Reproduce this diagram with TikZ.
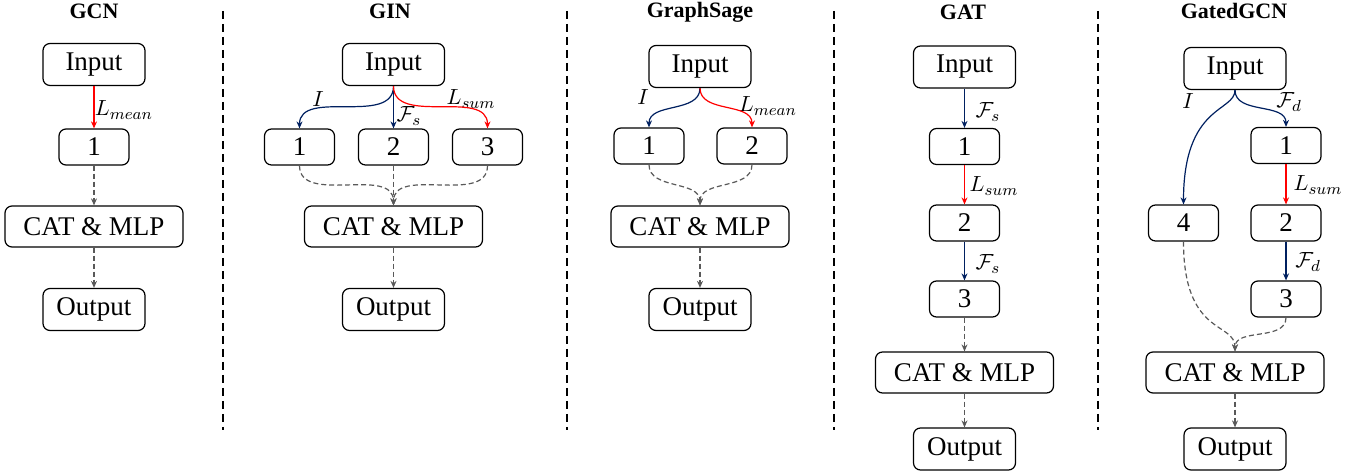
\documentclass[tikz,border=0pt]{standalone}
\usepackage{fontspec}
\setmainfont{Liberation Serif}
\newfontfamily\tnr{Liberation Serif}
\usepackage{tikz}
\usetikzlibrary{arrows.meta}
\usepackage{amssymb}
\usepackage{amsmath}
\definecolor{fblue}{RGB}{0,32,96}
\definecolor{dgray}{RGB}{89,89,89}

\begin{document}
\begin{tikzpicture}[x=0.5pt,y=-0.5pt,
    box/.style={draw,rounded corners=3.5pt,line width=0.6pt,inner sep=0pt,font=\tnr\fontsize{13.5}{15}\selectfont},
    inbox/.style={box,minimum width=51pt,minimum height=21pt},
    numbox/.style={box,minimum width=35pt,minimum height=18pt},
    catbox/.style={box,minimum width=89pt,minimum height=20.5pt},
    title/.style={font=\tnr\fontsize{11}{13}\selectfont\bfseries},
    lab/.style={font=\fontsize{11}{13}\selectfont,inner sep=0pt},
    tip/.style={-{Stealth[length=3.5pt,width=3pt]}},
    redarr/.style={tip,red,line width=0.6pt},
    bluearr/.style={tip,fblue,line width=0.6pt},
    dasharr/.style={tip,dgray,dash pattern=on 2.5pt off 1.5pt,line width=0.6pt},
    sepline/.style={dash pattern=on 4pt off 2.5pt,line width=1pt}]

        \useasboundingbox (0,0) rectangle (1355,474);

        % 分隔线
        \foreach \x in {223,567,834,1098}
            \draw[sepline] (\x,11) -- (\x,430);

        % GCN
        \node[title] (gcnT) at (94,11) {GCN};
        \node[inbox] (gcnIn) at (94,64.5) {Input};
        \node[numbox] (gcn1) at (94,147) {1};
        \node[catbox] (gcnCat) at (94,226.5) {CAT \& MLP};
        \node[inbox] (gcnOut) at (94,309.5) {Output};
        \node[lab] (gcnL) at (124,110) {$L_{mean}$};
        \draw[redarr,line width=1pt] (gcnIn) -- (gcn1);
        \draw[dasharr] (gcn1) -- (gcnCat);
        \draw[dasharr] (gcnCat) -- (gcnOut);

        % GIN
        \node[title] (ginT) at (390,11) {GIN};
        \node[inbox] (ginIn) at (393.5,64.5) {Input};
        \node[numbox] (gin1) at (299.5,147) {1};
        \node[numbox] (gin2) at (393.5,147) {2};
        \node[numbox] (gin3) at (487.5,147) {3};
        \node[catbox] (ginCat) at (393.5,226.5) {CAT \& MLP};
        \node[inbox] (ginOut) at (393.5,309.5) {Output};
        \node[lab] (ginLi) at (318,99) {$I$};
        \node[lab] (ginLf) at (409,116) {$\mathcal{F}_s$};
        \node[lab] (ginLs) at (471,99) {$L_{sum}$};
        \draw[bluearr] (ginIn.south) to[out=-90,in=90] (gin1.north);
        \draw[bluearr] (ginIn) -- (gin2);
        \draw[redarr] (ginIn.south) to[out=-90,in=90] (gin3.north);
        \draw[dasharr] (gin1.south) to[out=-90,in=90] (ginCat.north);
        \draw[dasharr] (gin2) -- (ginCat);
        \draw[dasharr] (gin3.south) to[out=-90,in=90] (ginCat.north);
        \draw[dasharr] (ginCat) -- (ginOut);

        % GraphSage
        \node[title] (gsT) at (700,12) {GraphSage};
        \node[inbox] (gsIn) at (700,66.5) {Input};
        \node[numbox] (gs1) at (649,146) {1};
        \node[numbox] (gs2) at (752,146) {2};
        \node[catbox] (gsCat) at (700,226.5) {CAT \& MLP};
        \node[inbox] (gsOut) at (700,309.5) {Output};
        \node[lab] (gsLi) at (643,97) {$I$};
        \node[lab] (gsLm) at (768,106) {$L_{mean}$};
        \draw[bluearr] (gsIn.south) to[out=-90,in=90] (gs1.north);
        \draw[redarr] (gsIn.south) to[out=-90,in=90] (gs2.north);
        \draw[dasharr] (gs1.south) to[out=-90,in=90] (gsCat.north);
        \draw[dasharr] (gs2.south) to[out=-90,in=90] (gsCat.north);
        \draw[dasharr] (gsCat) -- (gsOut);

        % GAT
        \node[title] (gatT) at (963,12) {GAT};
        \node[inbox] (gatIn) at (964.5,67) {Input};
        \node[numbox] (gat1) at (964.5,146.5) {1};
        \node[numbox] (gat2) at (964.5,223) {2};
        \node[numbox] (gat3) at (964.5,299) {3};
        \node[catbox] (gatCat) at (964.5,372.5) {CAT \& MLP};
        \node[inbox] (gatOut) at (964.5,449) {Output};
        \node[lab] (gatLa) at (988,112) {$\mathcal{F}_s$};
        \node[lab] (gatLb) at (994,186) {$L_{sum}$};
        \node[lab] (gatLc) at (988,264) {$\mathcal{F}_s$};
        \draw[bluearr] (gatIn) -- (gat1);
        \draw[redarr] (gat1) -- (gat2);
        \draw[bluearr] (gat2) -- (gat3);
        \draw[dasharr] (gat3) -- (gatCat);
        \draw[dasharr] (gatCat) -- (gatOut);

        % GatedGCN
        \node[title] (ggT) at (1234,11) {GatedGCN};
        \node[inbox] (ggIn) at (1235,68.5) {Input};
        \node[numbox] (gg1) at (1286,145.5) {1};
        \node[numbox] (gg4) at (1183.5,223) {4};
        \node[numbox] (gg2) at (1286,223) {2};
        \node[numbox] (gg3) at (1286,299) {3};
        \node[catbox] (ggCat) at (1235,372.5) {CAT \& MLP};
        \node[inbox] (ggOut) at (1235,449) {Output};
        \node[lab] (ggLi) at (1188,101) {$I$};
        \node[lab] (ggLa) at (1289,102) {$\mathcal{F}_d$};
        \node[lab] (ggLb) at (1318,185) {$L_{sum}$};
        \node[lab] (ggLc) at (1308,262) {$\mathcal{F}_d$};
        \draw[bluearr] (ggIn.south) .. controls +(0,22) and +(0,-100) .. (gg4.north);
        \draw[bluearr] (ggIn.south) to[out=-90,in=90] (gg1.north);
        \draw[redarr] (gg1) -- (gg2);
        \draw[bluearr] (gg2) -- (gg3);
        \draw[dasharr] (gg4.south) .. controls +(0,95) and +(0,-30) .. (ggCat.north);
        \draw[dasharr] (gg3.south) to[out=-90,in=90] (ggCat.north);
        \draw[dasharr] (ggCat) -- (ggOut);
\end{tikzpicture}
\end{document}
